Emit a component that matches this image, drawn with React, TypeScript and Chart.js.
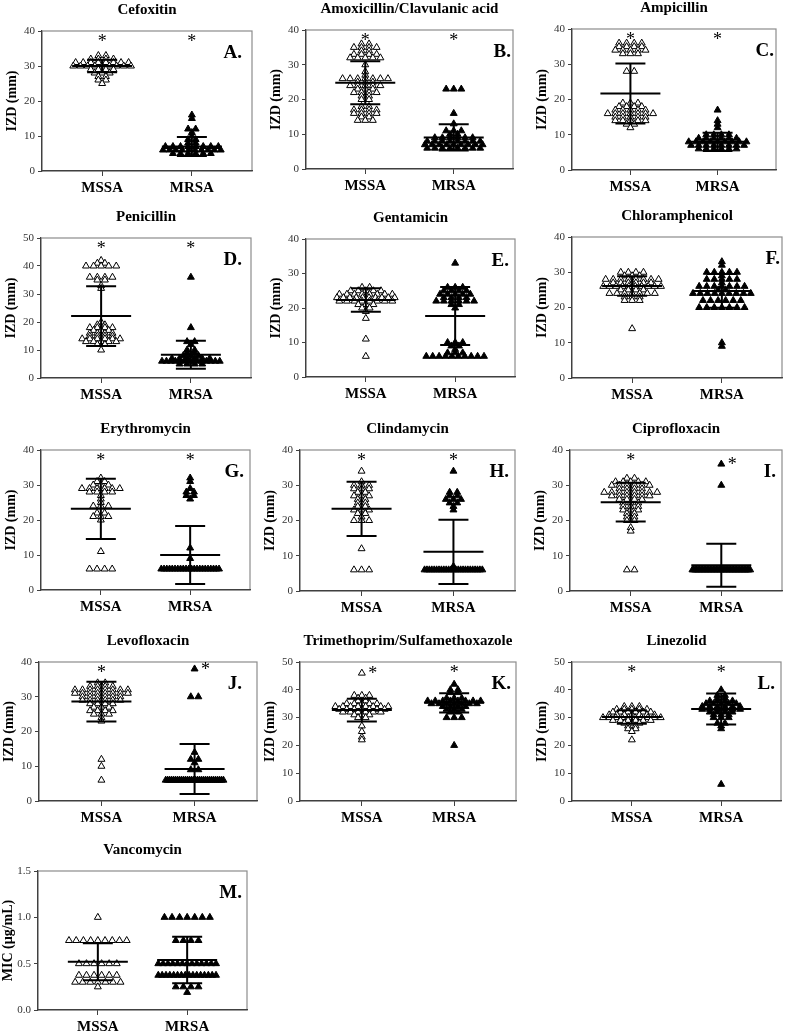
import React, { useEffect, useRef } from 'react';
import { Chart, registerables } from 'chart.js';
Chart.register(...registerables);

const FONT = "'Liberation Serif', 'Times New Roman', serif";
const groupLabels = ['MSSA', 'MRSA'];

// ---- Data: [value, count] ----
const cefoxitinMSSA = [[33, 2], [32, 4], [31, 8], [30, 9], [29, 4], [28, 3], [27, 2], [26, 2], [25, 1]];
const cefoxitinMRSA = [[16, 1], [15, 1], [12, 2], [11, 1], [10, 1], [9, 2], [8, 2], [7, 8], [6, 10], [5, 6]];
const cefoxitinMean = [30.0, 7.0];
const cefoxitinSD = [1.8, 2.7];

const amoxiMSSA = [[36, 2], [35, 4], [34, 2], [33, 4], [32, 5], [30, 1], [28, 1], [27, 1], [26, 7], [25, 3], [24, 5], [23, 3], [22, 4], [21, 2], [20, 2], [18, 2], [17, 4], [16, 4], [15, 2], [14, 3]];
const amoxiMRSA = [[23, 3], [16, 1], [13, 1], [11, 3], [10, 2], [9, 6], [8, 8], [7, 9], [6, 8]];
const amoxiMean = [24.8, 9.1];
const amoxiSD = [6.2, 3.8];

const ampiMSSA = [[36, 4], [35, 4], [34, 5], [33, 3], [28, 2], [19, 3], [18, 4], [17, 5], [16, 7], [15, 5], [14, 5], [13, 2], [12, 1]];
const ampiMRSA = [[17, 1], [14, 1], [13, 1], [12, 1], [10, 4], [9, 6], [8, 9], [7, 8], [6, 6]];
const ampiMean = [21.7, 8.0];
const ampiSD = [8.5, 2.6];

const peniMSSA = [[42, 1], [41, 2], [40, 5], [36, 4], [35, 2], [33, 1], [32, 1], [20, 1], [19, 2], [18, 4], [17, 3], [16, 4], [15, 4], [14, 6], [13, 5], [12, 2], [10, 1]];
const peniMRSA = [[36, 1], [18, 1], [13, 2], [12, 1], [10, 2], [9, 2], [8, 3], [7, 6], [6, 14], [5, 4]];
const peniMean = [22.1, 8.3];
const peniSD = [10.7, 5.0];

const gentaMSSA = [[26, 2], [25, 5], [24, 8], [23, 10], [22, 8], [21, 3], [20, 2], [19, 1], [17, 1], [11, 1], [6, 1]];
const gentaMRSA = [[33, 1], [26, 3], [25, 4], [24, 5], [23, 4], [22, 6], [21, 2], [20, 1], [10, 3], [9, 2], [8, 1], [7, 3], [6, 10]];
const gentaMean = [22.3, 17.7];
const gentaSD = [3.4, 8.4];

const chloraMSSA = [[30, 4], [29, 3], [28, 8], [27, 6], [26, 10], [25, 4], [24, 7], [23, 3], [22, 3], [14, 1]];
const chloraMRSA = [[33, 1], [32, 1], [30, 5], [29, 1], [28, 5], [27, 1], [26, 7], [25, 2], [24, 9], [22, 6], [20, 7], [10, 1], [9, 1]];
const chloraMean = [26.1, 24.7];
const chloraSD = [2.8, 4.8];

const erythroMSSA = [[32, 1], [31, 2], [30, 3], [29, 6], [28, 4], [27, 1], [26, 1], [25, 1], [24, 3], [22, 2], [21, 3], [20, 1], [11, 1], [6, 4]];
const erythroMRSA = [[32, 1], [31, 1], [29, 1], [28, 2], [27, 2], [26, 1], [12, 1], [9, 1], [6, 22]];
const erythroMean = [23.2, 10.0];
const erythroSD = [8.6, 8.3];

const clindaMSSA = [[34, 1], [31, 1], [30, 3], [29, 3], [28, 2], [27, 3], [26, 2], [25, 2], [24, 2], [23, 3], [22, 2], [21, 1], [20, 3], [12, 1], [6, 3]];
const clindaMRSA = [[34, 1], [28, 2], [27, 2], [26, 3], [25, 2], [24, 1], [23, 1], [7, 1], [6, 25]];
const clindaMean = [23.3, 11.1];
const clindaSD = [7.7, 9.1];

const ciproMSSA = [[32, 2], [31, 5], [30, 6], [29, 4], [28, 8], [27, 6], [26, 4], [25, 3], [24, 3], [23, 3], [22, 2], [21, 2], [20, 2], [18, 1], [17, 1], [6, 2]];
const ciproMRSA = [[36, 1], [30, 1], [6, 40]];
const ciproMean = [25.2, 7.3];
const ciproSD = [5.5, 6.1];

const levoMSSA = [[34, 2], [33, 4], [32, 8], [31, 8], [30, 6], [29, 6], [28, 4], [27, 3], [26, 4], [25, 3], [24, 1], [23, 1], [12, 1], [10, 1], [6, 1]];
const levoMRSA = [[38, 1], [30, 2], [14, 1], [12, 2], [11, 1], [9, 2], [6, 30]];
const levoMean = [28.6, 9.2];
const levoSD = [5.7, 7.2];

const tmpMSSA = [[46, 1], [38, 3], [37, 2], [36, 2], [35, 5], [34, 8], [33, 7], [32, 6], [31, 3], [30, 2], [27, 1], [25, 1], [23, 1], [22, 1]];
const tmpMRSA = [[42, 1], [40, 2], [39, 2], [37, 3], [36, 8], [35, 7], [34, 4], [33, 3], [32, 2], [30, 3], [20, 1]];
const tmpMean = [32.7, 35.3];
const tmpSD = [4.1, 3.5];

const linezMSSA = [[34, 3], [33, 5], [32, 6], [31, 7], [30, 10], [29, 6], [28, 3], [27, 2], [26, 2], [25, 1], [22, 1]];
const linezMRSA = [[40, 1], [38, 2], [37, 2], [36, 4], [35, 5], [34, 6], [33, 6], [32, 4], [31, 3], [30, 3], [28, 2], [27, 1], [26, 1], [6, 1]];
const linezMean = [30.2, 33.1];
const linezSD = [2.4, 5.6];

const vancoMSSA = [[1.0, 1], [0.75, 9], [0.5, 6], [0.375, 6], [0.3, 7], [0.25, 1]];
const vancoMRSA = [[1.0, 7], [0.75, 4], [0.5, 13], [0.375, 16], [0.25, 4], [0.19, 1]];
const vancoMean = [0.52, 0.54];
const vancoSD = [0.2, 0.25];

type Freq = number[][];
interface Panel {
  title: string; letter: string; yLabel: string; yMax: number; yStep: number;
  mssa: Freq; mrsa: Freq; mean: number[]; sd: number[]; stars: (string | null)[];
  box: number[]; letterDx: number;
}

const IZD = 'IZD (mm)';
const panels: Panel[] = [
  { title: 'Cefoxitin', letter: 'A.', yLabel: IZD, yMax: 40, yStep: 10, mssa: cefoxitinMSSA, mrsa: cefoxitinMRSA, mean: cefoxitinMean, sd: cefoxitinSD, stars: ['top', 'top'], box: [42, 31, 253, 171], letterDx: 10 },
  { title: 'Amoxicillin/Clavulanic acid', letter: 'B.', yLabel: IZD, yMax: 40, yStep: 10, mssa: amoxiMSSA, mrsa: amoxiMRSA, mean: amoxiMean, sd: amoxiSD, stars: ['top', 'top'], box: [306, 30, 514, 169], letterDx: 2 },
  { title: 'Ampicillin', letter: 'C.', yLabel: IZD, yMax: 40, yStep: 10, mssa: ampiMSSA, mrsa: ampiMRSA, mean: ampiMean, sd: ampiSD, stars: ['top', 'top'], box: [572, 29, 777, 170], letterDx: 2 },
  { title: 'Penicillin', letter: 'D.', yLabel: IZD, yMax: 50, yStep: 10, mssa: peniMSSA, mrsa: peniMRSA, mean: peniMean, sd: peniSD, stars: ['top', 'top'], box: [41, 238, 252, 378], letterDx: 9 },
  { title: 'Gentamicin', letter: 'E.', yLabel: IZD, yMax: 40, yStep: 10, mssa: gentaMSSA, mrsa: gentaMRSA, mean: gentaMean, sd: gentaSD, stars: [null, null], box: [306, 239, 516, 377], letterDx: 6 },
  { title: 'Chloramphenicol', letter: 'F.', yLabel: IZD, yMax: 40, yStep: 10, mssa: chloraMSSA, mrsa: chloraMRSA, mean: chloraMean, sd: chloraSD, stars: [null, null], box: [572, 237, 783, 378], letterDx: 2 },
  { title: 'Erythromycin', letter: 'G.', yLabel: IZD, yMax: 40, yStep: 10, mssa: erythroMSSA, mrsa: erythroMRSA, mean: erythroMean, sd: erythroSD, stars: ['top', 'top'], box: [41, 450, 251, 590], letterDx: 6 },
  { title: 'Clindamycin', letter: 'H.', yLabel: IZD, yMax: 40, yStep: 10, mssa: clindaMSSA, mrsa: clindaMRSA, mean: clindaMean, sd: clindaSD, stars: ['top', 'top'], box: [300, 450, 516, 591], letterDx: 6 },
  { title: 'Ciprofloxacin', letter: 'I.', yLabel: IZD, yMax: 40, yStep: 10, mssa: ciproMSSA, mrsa: ciproMRSA, mean: ciproMean, sd: ciproSD, stars: ['top', 'right'], box: [570, 450, 783, 591], letterDx: 6 },
  { title: 'Levofloxacin', letter: 'J.', yLabel: IZD, yMax: 40, yStep: 10, mssa: levoMSSA, mrsa: levoMRSA, mean: levoMean, sd: levoSD, stars: ['top', 'right'], box: [39, 662, 258, 801], letterDx: 15 },
  { title: 'Trimethoprim/Sulfamethoxazole', letter: 'K.', yLabel: IZD, yMax: 50, yStep: 10, mssa: tmpMSSA, mrsa: tmpMRSA, mean: tmpMean, sd: tmpSD, stars: ['right', 'top'], box: [300, 662, 517, 801], letterDx: 5 },
  { title: 'Linezolid', letter: 'L.', yLabel: IZD, yMax: 50, yStep: 10, mssa: linezMSSA, mrsa: linezMRSA, mean: linezMean, sd: linezSD, stars: ['top', 'top'], box: [572, 662, 782, 801], letterDx: 6 },
  { title: 'Vancomycin', letter: 'M.', yLabel: 'MIC (µg/mL)', yMax: 1.5, yStep: 0.5, mssa: vancoMSSA, mrsa: vancoMRSA, mean: vancoMean, sd: vancoSD, stars: [null, null], box: [38, 871, 248, 1010], letterDx: 5 },
];

const X_MIN = 0.33;
const X_MAX = 2.67;
const AXIS_W = 44;
const PAD_TOP = 34;
const AXIS_H = 28;

// horizontal scatter layout (rows of equal values, compressed when wide)
function swarm(freq: Freq, cat: number, pxPerX: number) {
  const pts: { x: number; y: number }[] = [];
  for (const [v, n] of freq) {
    const s = n > 1 ? Math.min(7.6, 58 / (n - 1)) : 0;
    for (let i = 0; i < n; i++) {
      pts.push({ x: cat + ((i - (n - 1) / 2) * s) / pxPerX, y: v });
    }
  }
  return pts;
}

function PanelChart({ p }: { p: Panel }) {
  const ref = useRef<HTMLCanvasElement>(null);
  const [l, t, r, b] = p.box;
  const padR = Math.min(4, 787 - r);
  const W = r - l + AXIS_W + padR;
  const H = b - t + PAD_TOP + AXIS_H;

  useEffect(() => {
    const pxPerX = (r - l) / (X_MAX - X_MIN);
    const deco = {
      id: 'deco',
      beforeDraw(chart: any) {
        const { ctx, chartArea: a } = chart;
        ctx.save();
        ctx.strokeStyle = '#8c8c8c';
        ctx.lineWidth = 1.2;
        ctx.strokeRect(a.left, a.top, a.right - a.left, a.bottom - a.top);
        ctx.restore();
      },
      afterDatasetsDraw(chart: any) {
        const { ctx } = chart;
        const xs = chart.scales.x;
        const ys = chart.scales.y;
        ctx.save();
        ctx.strokeStyle = '#000';
        ctx.fillStyle = '#000';
        ctx.lineWidth = 2;
        [0, 1].forEach((g) => {
          const cx = xs.getPixelForValue(g + 1);
          const m = p.mean[g];
          const sd = p.sd[g];
          const ym = ys.getPixelForValue(m);
          const yu = ys.getPixelForValue(m + sd);
          const yl = ys.getPixelForValue(Math.max(0, m - sd));
          ctx.beginPath();
          ctx.moveTo(cx, yu); ctx.lineTo(cx, yl);
          ctx.moveTo(cx - 30, ym); ctx.lineTo(cx + 30, ym);
          ctx.moveTo(cx - 15, yu); ctx.lineTo(cx + 15, yu);
          ctx.moveTo(cx - 15, yl); ctx.lineTo(cx + 15, yl);
          ctx.stroke();
          const st = p.stars[g];
          if (st) {
            ctx.font = `18px ${FONT}`;
            ctx.textAlign = 'center';
            ctx.textBaseline = 'middle';
            if (st === 'top') {
              ctx.fillText('*', cx, ys.getPixelForValue(p.yMax * 0.94) + 3);
            } else {
              const freq = g === 0 ? p.mssa : p.mrsa;
              const top = Math.max(...freq.map((f) => f[0]));
              ctx.fillText('*', cx + 11, ys.getPixelForValue(top) + 1);
            }
          }
        });
        ctx.restore();
      },
      afterDraw(chart: any) {
        const { ctx, chartArea: a } = chart;
        ctx.save();
        ctx.fillStyle = '#000';
        ctx.font = `bold 15px ${FONT}`;
        ctx.textAlign = 'center';
        ctx.textBaseline = 'middle';
        ctx.fillText(p.title, (a.left + a.right) / 2, a.top - 21);
        ctx.font = `bold 19px ${FONT}`;
        ctx.textAlign = 'right';
        ctx.textBaseline = 'alphabetic';
        ctx.fillText(p.letter, a.right - p.letterDx, a.top + 27);
        ctx.translate(a.left - 30, (a.top + a.bottom) / 2);
        ctx.rotate(-Math.PI / 2);
        ctx.font = `bold 14px ${FONT}`;
        ctx.textAlign = 'center';
        ctx.textBaseline = 'middle';
        ctx.fillText(p.yLabel, 0, 0);
        ctx.restore();
      },
    };

    const chart = new Chart(ref.current as HTMLCanvasElement, {
      type: 'scatter',
      data: {
        datasets: [
          {
            label: groupLabels[0],
            data: swarm(p.mssa, 1, pxPerX),
            pointStyle: 'triangle',
            pointRadius: 4,
            pointBackgroundColor: '#ffffff',
            pointBorderColor: '#000000',
            pointBorderWidth: 1,
            showLine: false,
          },
          {
            label: groupLabels[1],
            data: swarm(p.mrsa, 2, pxPerX),
            pointStyle: 'triangle',
            pointRadius: 4,
            pointBackgroundColor: '#000000',
            pointBorderColor: '#000000',
            pointBorderWidth: 1,
            showLine: false,
          },
        ],
      },
      options: {
        animation: false,
        responsive: false,
        events: [],
        layout: { padding: { left: 0, top: PAD_TOP, right: padR, bottom: 0 } },
        plugins: { legend: { display: false }, tooltip: { enabled: false }, title: { display: false } },
        scales: {
          x: {
            type: 'linear',
            min: X_MIN,
            max: X_MAX,
            afterBuildTicks: (s: any) => { s.ticks = [{ value: 1 }, { value: 2 }]; },
            ticks: {
              callback: (v: any) => groupLabels[Math.round(Number(v)) - 1],
              font: { family: FONT, size: 15, weight: 'bold' },
              color: '#000',
              padding: 3,
              maxRotation: 0,
              autoSkip: false,
            },
            grid: { display: true, drawOnChartArea: false, drawTicks: true, tickLength: 5, color: '#404040' },
            border: { display: true, color: '#404040', width: 1.2 },
            afterFit: (s: any) => { s.height = AXIS_H; },
          },
          y: {
            min: 0,
            max: p.yMax,
            ticks: {
              stepSize: p.yStep,
              font: { family: FONT, size: 11 },
              color: '#333',
              padding: 3,
              callback: (v: any) => (p.yStep < 1 ? Number(v).toFixed(1) : String(v)),
            },
            grid: { display: true, drawOnChartArea: false, drawTicks: true, tickLength: 4, color: '#404040' },
            border: { display: true, color: '#404040', width: 1.2 },
            afterFit: (s: any) => { s.width = AXIS_W; },
          },
        },
      },
      plugins: [deco],
    } as any);
    return () => chart.destroy();
  }, []);

  return (
    <canvas
      ref={ref}
      width={W}
      height={H}
      style={{ position: 'absolute', left: l - AXIS_W, top: t - PAD_TOP, width: W, height: H }}
    />
  );
}

export default function App() {
  return (
    <div style={{ position: 'absolute', left: 0, top: 0, width: 787, height: 1032, overflow: 'hidden', background: '#fff' }}>
      {panels.map((p) => (
        <PanelChart key={p.letter} p={p} />
      ))}
    </div>
  );
}
